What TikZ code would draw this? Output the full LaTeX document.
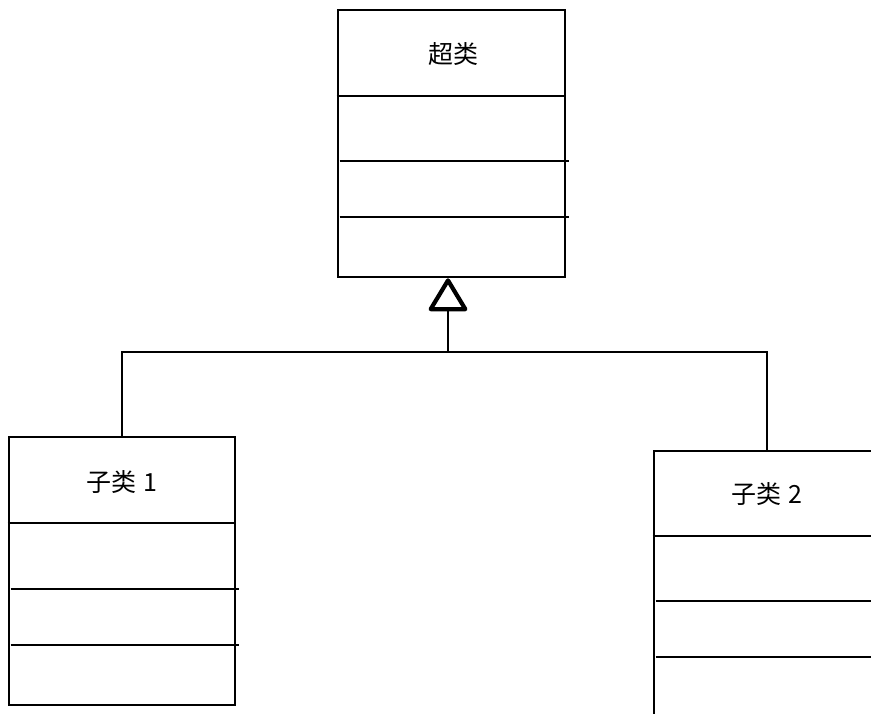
\documentclass[tikz,border=0pt]{standalone}
\usepackage{fontspec}
\newfontfamily\cjk{Noto Sans CJK SC}
\usetikzlibrary{arrows.meta}
\begin{document}
\begin{tikzpicture}[x=1pt,y=-1pt,
  classbox/.style={draw, line width=2.6pt, rectangle, minimum width=227pt, minimum height=267pt, inner sep=0pt},
  header/.style={line width=2.4pt},
  divider/.style={line width=1.8pt},
  connector/.style={line width=1.5pt},
  classname/.style={font=\cjk\fontsize{25}{30}\selectfont, inner sep=0pt}]
\useasboundingbox (0,0) rectangle (871,713);
\clip (0,0) rectangle (871,713);
% class boxes
\node[classbox] (super) at (451.5,143.5) {};
\node[classbox, minimum width=226pt, minimum height=268pt] (sub1) at (122,571) {};
\node[classbox, minimum width=226pt, minimum height=268pt] (sub2) at (767,585) {};
% names
\node[classname] (supername) at ([xshift=2pt,yshift=-45pt]super.north) {超类};
\node[classname] (sub1name) at ([yshift=-46pt]sub1.north) {子类\hspace{0.3em}1};
\node[classname] (sub2name) at ([yshift=-44pt]sub2.north) {子类\hspace{0.3em}2};
% compartments of super
\draw[header] ([yshift=-87pt]super.north west) -- ([yshift=-87pt]super.north east);
\draw[divider] ([xshift=3pt,yshift=-152pt]super.north west) -- ([xshift=3pt,yshift=-152pt]super.north east);
\draw[divider] ([xshift=3pt,yshift=-208pt]super.north west) -- ([xshift=3pt,yshift=-208pt]super.north east);
% compartments of sub1
\draw[header] ([yshift=-87pt]sub1.north west) -- ([yshift=-87pt]sub1.north east);
\draw[divider] ([xshift=3pt,yshift=-153pt]sub1.north west) -- ([xshift=3pt,yshift=-153pt]sub1.north east);
\draw[divider] ([xshift=3pt,yshift=-209pt]sub1.north west) -- ([xshift=3pt,yshift=-209pt]sub1.north east);
% compartments of sub2
\draw[header] ([yshift=-86pt]sub2.north west) -- ([yshift=-86pt]sub2.north east);
\draw[divider] ([xshift=3pt,yshift=-151pt]sub2.north west) -- ([xshift=3pt,yshift=-151pt]sub2.north east);
\draw[divider] ([xshift=3pt,yshift=-207pt]sub2.north west) -- ([xshift=3pt,yshift=-207pt]sub2.north east);
% generalization
\coordinate (bar) at (448,352);
\draw[connector, -{Triangle[open, length=35pt, width=41pt, line width=4.2pt, round]}] (bar) -- (bar |- super.south);
\draw[connector] (sub1.north) |- (bar) -| (sub2.north);
\end{tikzpicture}
\end{document}
